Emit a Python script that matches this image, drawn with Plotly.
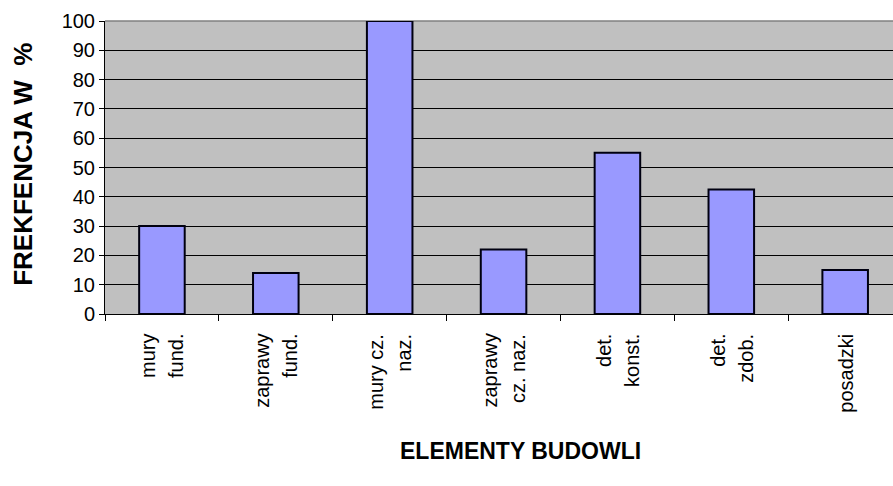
import plotly.graph_objects as go

# Frequency (%) of each building element
categories = [
    "mury<br>fund.",
    "zaprawy<br>fund.",
    "mury cz.<br>naz.",
    "zaprawy<br>cz. naz.",
    "det.<br>konst.",
    "det.<br>zdob.",
    "posadzki",
]
values = [30, 14, 100, 22, 55, 42.5, 15]
y_ticks = list(range(0, 101, 10))

FONT = "Liberation Sans, Arial, sans-serif"
W, H = 893, 486
ML, MR, MT, MB = 105, 0, 21, 172
LINE_GAP = 28  # px between the two lines of a rotated label

fig = go.Figure(
    go.Bar(
        x=list(range(len(categories))),
        y=values,
        width=0.4,
        marker=dict(color="#9999FF", line=dict(color="#000010", width=2)),
        hoverinfo="skip",
    )
)

fig.update_layout(
    width=W,
    height=H,
    margin=dict(l=ML, r=MR, t=MT, b=MB, autoexpand=False),
    paper_bgcolor="white",
    plot_bgcolor="#C0C0C0",
    showlegend=False,
)

# Category axis: ticks sit on the boundaries between categories
fig.update_xaxes(
    type="linear",
    range=[-0.5, 6.42],
    tickmode="array",
    tickvals=[i - 0.5 for i in range(len(categories))],
    ticktext=[""] * len(categories),
    ticks="outside",
    ticklen=6,
    tickcolor="black",
    tickwidth=1,
    showgrid=False,
    showline=True,
    linecolor="black",
    linewidth=1,
    zeroline=False,
    automargin=False,
)

fig.update_yaxes(
    range=[0, 100],
    tickmode="array",
    tickvals=y_ticks,
    ticktext=[str(v) for v in y_ticks],
    ticks="outside",
    ticklen=5,
    tickcolor="black",
    showgrid=True,
    gridcolor="black",
    gridwidth=1,
    showline=True,
    linecolor="black",
    linewidth=1,
    zeroline=False,
    tickfont=dict(family=FONT, size=20, color="black"),
    automargin=False,
)

# Grey top border of the plot area (drawn over the top gridline, under the bars)
fig.add_shape(
    type="line",
    xref="paper",
    yref="paper",
    x0=0,
    x1=1,
    y0=1,
    y1=1,
    line=dict(color="#808080", width=1.5),
    layer="between",
)

# Category labels, rotated, hung below each bar; each line placed separately
for i, lab in enumerate(categories):
    lines = lab.split("<br>")
    n = len(lines)
    for j, part in enumerate(lines):
        fig.add_annotation(
            x=i,
            y=0,
            xref="x",
            yref="paper",
            xshift=(j - (n - 1) / 2) * LINE_GAP,
            yshift=-18,
            text=part,
            textangle=-90,
            showarrow=False,
            xanchor="center",
            yanchor="top",
            font=dict(family=FONT, size=20, color="black"),
        )

# Axis titles
fig.add_annotation(
    x=0.527,
    y=-0.469,
    xref="paper",
    yref="paper",
    text="<b>ELEMENTY BUDOWLI</b>",
    showarrow=False,
    xanchor="center",
    yanchor="middle",
    font=dict(family=FONT, size=23, color="black"),
)
fig.add_annotation(
    x=-0.105,
    y=0.51,
    xref="paper",
    yref="paper",
    text="<b>FREKFENCJA W  %</b>",
    textangle=-90,
    showarrow=False,
    xanchor="center",
    yanchor="middle",
    font=dict(family=FONT, size=26, color="black"),
)

fig.write_html("out.html")
